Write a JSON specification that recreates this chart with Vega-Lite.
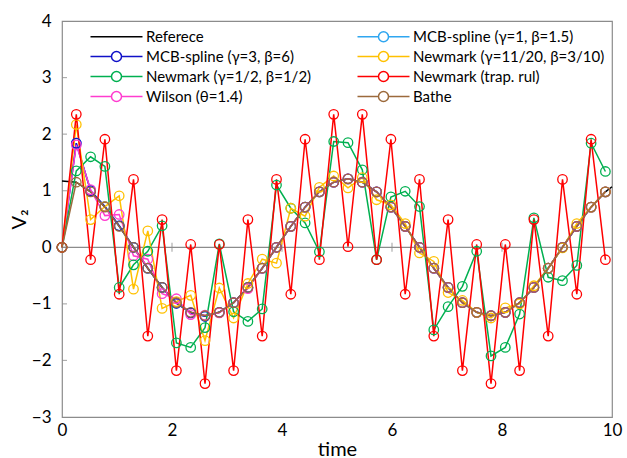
{
  "$schema": "https://vega.github.io/schema/vega-lite/v6.json",
  "width": 550,
  "height": 396,
  "autosize": {"type": "none"},
  "padding": {"left": 62, "top": 21, "right": 15, "bottom": 41},
  "background": "white",
  "config": {
    "view": {"stroke": "#8c8c8c", "strokeWidth": 1.2},
    "font": "Lato",
    "axisX": {"ticks": false, "domain": false, "grid": false, "labelFlush": false, "labelFontSize": 17, "labelPadding": 5, "titleFontSize": 20, "titlePadding": 1, "labelColor": "#000", "titleColor": "#000", "titleFontWeight": "normal", "labelFont": "Lato", "titleFont": "Lato"},
    "axisY": {"ticks": false, "domain": false, "grid": false, "labelFlush": false, "labelFontSize": 17, "labelPadding": 11, "titleFontSize": 20, "titlePadding": 2, "labelColor": "#000", "titleColor": "#000", "titleFontWeight": "normal", "labelFont": "Lato", "titleFont": "Lato"}
  },
  "datasets": {
    "main": [
      {"t": 0.00, "R": 1.17, "A": 0, "B": 0, "W": 0, "G": 0, "O": 0, "T": 0, "H": 0},
      {"t": 0.26, "R": 1.15, "A": 1.84, "B": 1.84, "W": 1.81, "G": 1.35, "O": 2.17, "T": 2.35, "H": 1.15},
      {"t": 0.52, "R": 0.98, "A": 1.0, "B": 1.0, "W": 1.02, "G": 1.60, "O": 0.49, "T": -0.22, "H": 0.98},
      {"t": 0.78, "R": 0.71, "A": 0.72, "B": 0.72, "W": 0.56, "G": 1.43, "O": 0.72, "T": 1.91, "H": 0.71},
      {"t": 1.04, "R": 0.37, "A": 0.38, "B": 0.38, "W": 0.58, "G": -0.71, "O": 0.91, "T": -0.83, "H": 0.37},
      {"t": 1.30, "R": 0, "A": 0, "B": 0, "W": -0.15, "G": -0.31, "O": -0.74, "T": 1.2, "H": 0},
      {"t": 1.56, "R": -0.37, "A": -0.37, "B": -0.37, "W": -0.21, "G": -0.07, "O": 0.29, "T": -1.57, "H": -0.37},
      {"t": 1.82, "R": -0.71, "A": -0.71, "B": -0.71, "W": -0.82, "G": 0.38, "O": -1.08, "T": 0.49, "H": -0.71},
      {"t": 2.08, "R": -0.98, "A": -0.99, "B": -0.99, "W": -0.91, "G": -1.69, "O": -0.96, "T": -2.18, "H": -0.98},
      {"t": 2.34, "R": -1.15, "A": -1.16, "B": -1.16, "W": -1.19, "G": -1.77, "O": -0.85, "T": 0.05, "H": -1.15},
      {"t": 2.60, "R": -1.21, "A": -1.22, "B": -1.22, "W": -1.20, "G": -1.42, "O": -1.65, "T": -2.41, "H": -1.21},
      {"t": 2.86, "R": -1.15, "A": -1.15, "B": -1.15, "W": -1.16, "G": 0.06, "O": -0.72, "T": 0.05, "H": -1.15},
      {"t": 3.12, "R": -0.98, "A": -0.98, "B": -0.98, "W": -0.98, "G": -1.14, "O": -1.25, "T": -2.18, "H": -0.98},
      {"t": 3.38, "R": -0.71, "A": -0.71, "B": -0.71, "W": -0.73, "G": -1.31, "O": -0.64, "T": 0.49, "H": -0.71},
      {"t": 3.64, "R": -0.37, "A": -0.37, "B": -0.37, "W": -0.37, "G": -1.09, "O": -0.21, "T": -1.57, "H": -0.37},
      {"t": 3.90, "R": 0, "A": 0, "B": 0, "W": 0, "G": 1.10, "O": -0.28, "T": 1.2, "H": 0},
      {"t": 4.16, "R": 0.37, "A": 0.37, "B": 0.37, "W": 0.37, "G": 0.69, "O": 0.69, "T": -0.83, "H": 0.37},
      {"t": 4.42, "R": 0.71, "A": 0.71, "B": 0.71, "W": 0.71, "G": 0.43, "O": 0.55, "T": 1.91, "H": 0.71},
      {"t": 4.68, "R": 0.98, "A": 0.98, "B": 0.98, "W": 0.98, "G": -0.08, "O": 1.06, "T": -0.22, "H": 0.98},
      {"t": 4.94, "R": 1.15, "A": 1.15, "B": 1.15, "W": 1.15, "G": 1.87, "O": 1.26, "T": 2.35, "H": 1.15},
      {"t": 5.20, "R": 1.21, "A": 1.21, "B": 1.21, "W": 1.21, "G": 1.85, "O": 1.05, "T": 0.01, "H": 1.21},
      {"t": 5.46, "R": 1.15, "A": 1.15, "B": 1.15, "W": 1.15, "G": 1.37, "O": 1.23, "T": 2.35, "H": 1.15},
      {"t": 5.72, "R": 0.98, "A": 0.98, "B": 0.98, "W": 0.98, "G": -0.22, "O": 0.84, "T": -0.22, "H": 0.98},
      {"t": 5.98, "R": 0.71, "A": 0.71, "B": 0.71, "W": 0.71, "G": 0.89, "O": 0.75, "T": 1.91, "H": 0.71},
      {"t": 6.24, "R": 0.37, "A": 0.37, "B": 0.37, "W": 0.37, "G": 0.99, "O": 0.42, "T": -0.83, "H": 0.37},
      {"t": 6.50, "R": 0, "A": 0, "B": 0, "W": 0, "G": 0.72, "O": -0.10, "T": 1.2, "H": 0},
      {"t": 6.76, "R": -0.37, "A": -0.37, "B": -0.37, "W": -0.37, "G": -1.46, "O": -0.25, "T": -1.57, "H": -0.37},
      {"t": 7.02, "R": -0.71, "A": -0.71, "B": -0.71, "W": -0.71, "G": -1.05, "O": -0.80, "T": 0.49, "H": -0.71},
      {"t": 7.28, "R": -0.98, "A": -0.98, "B": -0.98, "W": -0.98, "G": -0.69, "O": -0.94, "T": -2.18, "H": -0.98},
      {"t": 7.54, "R": -1.15, "A": -1.15, "B": -1.15, "W": -1.15, "G": -0.07, "O": -1.15, "T": 0.05, "H": -1.15},
      {"t": 7.80, "R": -1.21, "A": -1.21, "B": -1.21, "W": -1.21, "G": -1.92, "O": -1.25, "T": -2.41, "H": -1.21},
      {"t": 8.06, "R": -1.15, "A": -1.15, "B": -1.15, "W": -1.15, "G": -1.77, "O": -1.07, "T": 0.05, "H": -1.15},
      {"t": 8.32, "R": -0.98, "A": -0.98, "B": -0.98, "W": -0.98, "G": -1.18, "O": -1.00, "T": -2.18, "H": -0.98},
      {"t": 8.58, "R": -0.71, "A": -0.71, "B": -0.71, "W": -0.71, "G": 0.52, "O": -0.68, "T": 0.49, "H": -0.71},
      {"t": 8.84, "R": -0.37, "A": -0.37, "B": -0.37, "W": -0.37, "G": -0.53, "O": -0.37, "T": -1.57, "H": -0.37},
      {"t": 9.10, "R": 0, "A": 0, "B": 0, "W": 0, "G": -0.59, "O": -0.01, "T": 1.2, "H": 0},
      {"t": 9.36, "R": 0.37, "A": 0.37, "B": 0.37, "W": 0.37, "G": -0.32, "O": 0.42, "T": -0.83, "H": 0.37},
      {"t": 9.62, "R": 0.71, "A": 0.71, "B": 0.71, "W": 0.71, "G": 1.84, "O": 0.71, "T": 1.91, "H": 0.71},
      {"t": 9.88, "R": 0.98, "A": 0.98, "B": 0.98, "W": 0.98, "G": 1.34, "O": 0.98, "T": -0.22, "H": 0.98},
      {"t": 10.0, "R": 1.07}
    ],
    "zero": [{"y": 0}],
    "xticks": [{"t": 2}, {"t": 4}, {"t": 6}, {"t": 8}],
    "yticks": [{"y": -2}, {"y": -1}, {"y": 0}, {"y": 1}, {"y": 2}, {"y": 3}]
  },
  "layer": [
    {
      "data": {"name": "zero"},
      "mark": {"type": "rule", "color": "#8c8c8c", "strokeWidth": 1.2},
      "encoding": {
        "y": {"field": "y", "type": "quantitative", "scale": {"domain": [-3, 4]}, "title": "V₂"}
      }
    },
    {
      "data": {"name": "xticks"},
      "mark": {"type": "tick", "orient": "vertical", "color": "#8c8c8c", "thickness": 1.2, "size": 9},
      "encoding": {
        "x": {"field": "t", "type": "quantitative", "scale": {"domain": [0, 10]}, "title": "time"},
        "y": {"datum": 0, "type": "quantitative"}
      }
    },
    {
      "data": {"name": "yticks"},
      "mark": {"type": "tick", "orient": "horizontal", "color": "#8c8c8c", "thickness": 1.2, "size": 10, "clip": true},
      "encoding": {
        "y": {"field": "y", "type": "quantitative", "title": "V₂"},
        "x": {"datum": 0, "type": "quantitative"}
      }
    },
    {
      "data": {"name": "main"},
      "transform": [
        {"fold": ["R", "A", "B", "W", "G", "O", "T", "H"], "as": ["s", "v"]},
        {"filter": "isValid(datum.v)"}
      ],
      "mark": {"type": "line", "strokeWidth": 1.5},
      "encoding": {
        "x": {"field": "t", "type": "quantitative", "scale": {"domain": [0, 10], "nice": false}, "title": "time", "axis": {"values": [0, 2, 4, 6, 8, 10]}},
        "y": {"field": "v", "type": "quantitative", "scale": {"domain": [-3, 4], "nice": false}, "title": "V₂", "axis": {"values": [-3, -2, -1, 0, 1, 2, 3, 4], "format": "d"}},
        "color": {
          "field": "s", "type": "nominal",
          "scale": {"domain": ["R", "B", "G", "W", "A", "O", "T", "H"], "range": ["#000000", "#1010c8", "#00b050", "#ff3ccf", "#2fa6f0", "#ffc000", "#ff0000", "#9c6a3c"]},
          "legend": {
            "orient": "none", "legendX": 47, "legendY": 8, "columns": 2, "columnPadding": 43, "rowPadding": 3, "padding": 0,
            "title": null, "symbolSize": 100, "labelOffset": 22, "labelFontSize": 15, "labelLimit": 400, "labelFont": "Lato", "labelColor": "#000", "symbolStrokeWidth": 1.5,
            "labelExpr": "{'R':'Referece','A':'MCB-spline (γ=1, β=1.5)','B':'MCB-spline (γ=3, β=6)','O':'Newmark (γ=11/20, β=3/10)','G':'Newmark (γ=1/2, β=1/2)','T':'Newmark (trap. rul)','W':'Wilson (θ=1.4)','H':'Bathe'}[datum.label]",
            "encode": {"symbols": {"update": {
              "shape": [{"test": "datum.value === 'R'", "value": "M-5.2,0H5.2"}, {"value": "M-5.2,0H-1M1,0H5.2M1,0A1,1 0 1 1 -1,0A1,1 0 1 1 1,0"}],
              "fill": {"value": "transparent"}
            }}}
          }
        }
      }
    },
    {
      "data": {"name": "main"},
      "transform": [
        {"fold": ["R", "A", "B", "W", "G", "O", "T", "H"], "as": ["s", "v"]},
        {"filter": "isValid(datum.v) && datum.s !== 'R'"}
      ],
      "mark": {"type": "point", "filled": false, "size": 90, "strokeWidth": 1.3, "opacity": 1},
      "encoding": {
        "x": {"field": "t", "type": "quantitative", "title": "time"},
        "y": {"field": "v", "type": "quantitative", "title": "V₂"},
        "color": {"field": "s", "type": "nominal"}
      }
    }
  ]
}
